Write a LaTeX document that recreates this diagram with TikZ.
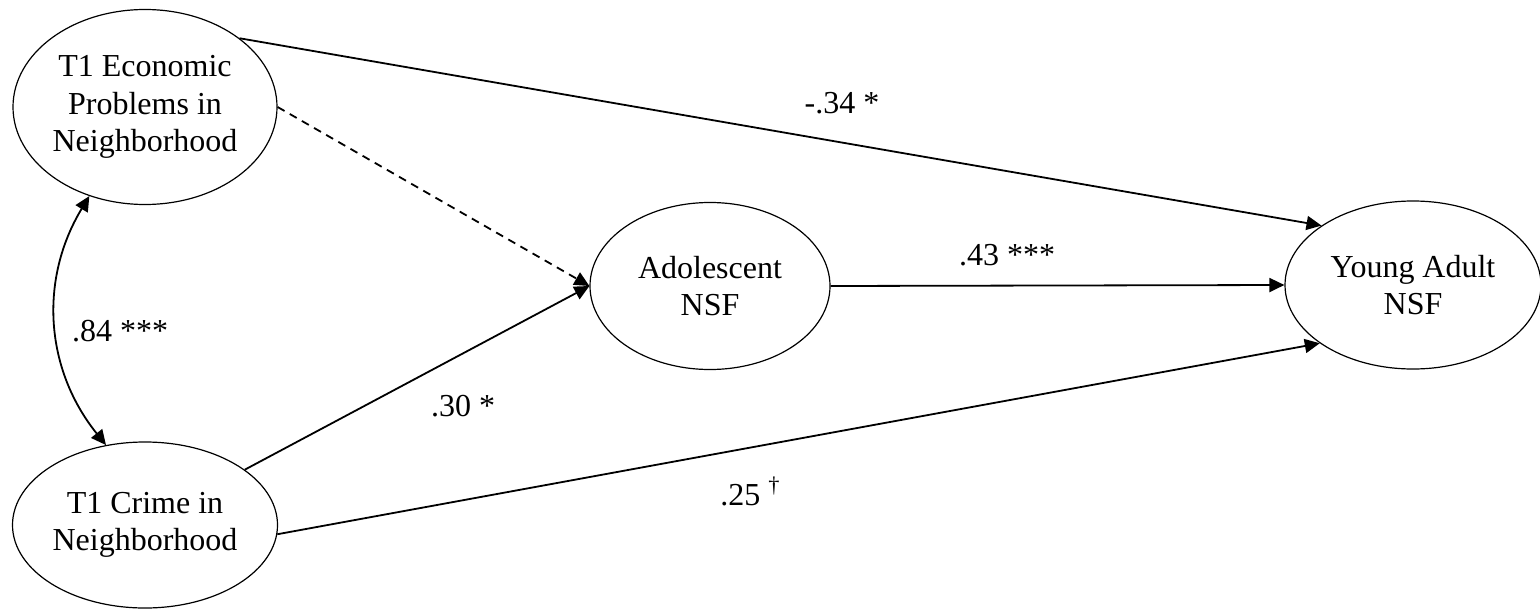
\documentclass[tikz,border=0pt]{standalone}
\usepackage{fontspec}
\setmainfont{Liberation Serif}
\usetikzlibrary{
  arrows.meta,
  shapes.geometric
}
\tikzset{
  factor/.style={draw, ellipse, line width=0.6pt, inner sep=0pt, align=center,
    font=\fontsize{16}{18.8}\selectfont},
  effect/.style={line width=0.9pt, ->, >={Triangle[length=7.5pt,width=7pt]}},
  coef/.style={inner sep=0pt, font=\fontsize{16}{18.8}\selectfont}
}

\begin{document}
\begin{tikzpicture}[x=0.5pt,y=-0.5pt]
  \useasboundingbox (0,0) rectangle (1540,610);

  % Exogenous factors
  \node[factor, minimum width=132pt, minimum height=97.5pt] (econ) at (145,107) {T1 Economic\\Problems in\\Neighborhood};
  \node[factor, minimum width=132.5pt, minimum height=83pt] (crime) at (145,525) {T1 Crime in\\Neighborhood};

  % Mediator and outcome
  \node[factor, minimum width=120pt, minimum height=83.5pt] (adol) at (710,286) {Adolescent\\NSF};
  \node[factor, minimum width=128pt, minimum height=84pt] (adult) at (1413,285) {Young Adult\\NSF};

  % Correlation
  \draw[effect, <->] (econ.238) to[bend right=35] (crime.116);
  \node[coef] (r84) at (120,331) {.84 ***};

  % Direct paths
  \draw[effect] (econ.36) -- (adult.147);
  \node[coef] (b34) at (842,103) {-.34 *};
  \draw[effect, dash pattern=on 4pt off 3pt] (econ.east) -- (adol.west);
  \draw[effect] (crime.29) -- (adol.west);
  \node[coef] (b30) at (463,406) {.30 *};
  \draw[effect] (crime.-4) -- (adult.212);
  \node[coef, anchor=base west] (b25) at (720,505) {.25 \textsuperscript{\textdagger}};

  % Mediated path
  \draw[effect] (adol.east) -- (adult.west);
  \node[coef] (b43) at (1007,255) {.43 ***};
\end{tikzpicture}
\end{document}
